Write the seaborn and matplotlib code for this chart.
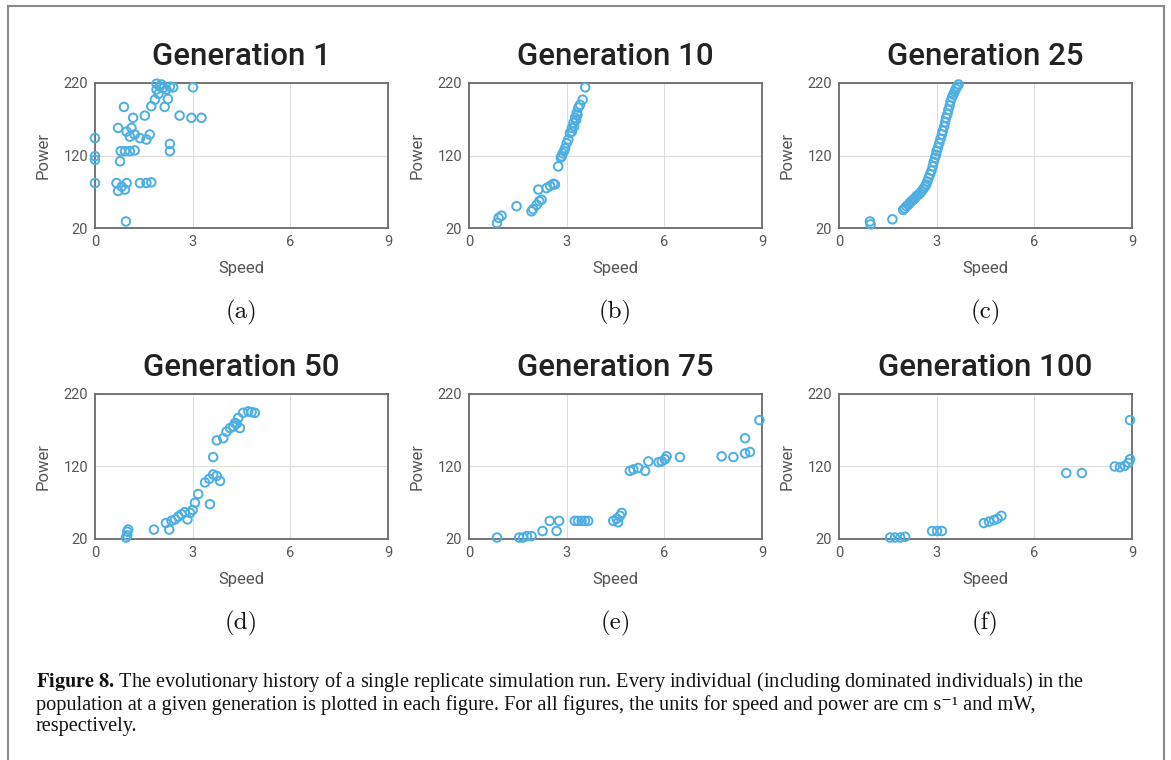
import matplotlib
matplotlib.use('Agg')
import matplotlib.pyplot as plt
import seaborn as sns
import pandas as pd
from matplotlib.patches import Rectangle

sns.set_theme(style='white')
plt.rcParams['font.family'] = ['Roboto', 'DejaVu Sans']
plt.rcParams['mathtext.fontset'] = 'stix'

# ---------------- data ----------------
titles = ['Generation 1', 'Generation 10', 'Generation 25',
          'Generation 50', 'Generation 75', 'Generation 100']
panel_labels = ['(a)', '(b)', '(c)', '(d)', '(e)', '(f)']
x_ticks = [0, 3, 6, 9]
y_ticks = [20, 120, 220]
x_label = 'Speed'
y_label = 'Power'

gen1_speed = [0.0, 0.0, 0.0, 0.0, 0.89, 0.71, 0.97, 1.12, 1.17, 1.07, 1.22, 1.38, 1.53, 1.68,
              1.58, 1.73, 1.84, 1.89, 1.99, 2.09, 2.19, 2.30, 2.40, 2.14, 2.24, 2.30, 2.30,
              3.01, 2.60, 2.96, 3.27, 0.79, 0.92, 1.07, 1.22, 0.77, 0.66, 0.82, 0.92, 0.71,
              0.97, 1.38, 1.58, 1.73, 0.95, 1.89, 2.04, 1.95]
gen1_power = [144, 119, 114, 82, 187, 158, 153, 158, 172, 146, 149, 144, 175, 149,
              142, 188, 197, 211, 215, 213, 211, 215, 214, 187, 198, 136, 126,
              214, 175, 172, 172, 126, 126, 126, 127, 112, 82, 77, 73, 71,
              82, 82, 82, 83, 29, 219, 218, 205]

gen10_speed = [0.86, 0.91, 1.00, 1.46, 1.92, 1.97, 2.08, 2.16, 2.23, 2.13, 2.38, 2.49, 2.59,
               2.64, 2.74, 2.82, 2.85, 2.88, 2.92, 2.95, 3.00, 3.05, 3.10, 3.16, 3.16, 3.21,
               3.23, 3.26, 3.29, 3.31, 3.33, 3.36, 3.41, 3.49, 3.57]
gen10_power = [27, 34, 37, 50, 43, 46, 52, 57, 59, 73, 75, 78, 81,
               80, 105, 117, 119, 123, 126, 130, 137, 142, 151, 153, 158, 165,
               160, 172, 169, 179, 176, 186, 190, 197, 214]

gen25_speed = [0.95, 0.97, 1.64, 1.97, 2.02, 2.07, 2.13, 2.18, 2.23, 2.28, 2.33, 2.38, 2.44,
               2.49, 2.54, 2.59, 2.64, 2.68, 2.71, 2.75, 2.80, 2.84, 2.88, 2.91, 2.95, 2.98,
               3.00, 3.04, 3.08, 3.12, 3.16, 3.19, 3.23, 3.26, 3.29, 3.33, 3.36, 3.40, 3.43,
               3.47, 3.51, 3.55, 3.59, 3.63, 3.67]
gen25_power = [29, 25, 32, 45, 47, 50, 52, 55, 57, 59, 61, 64, 66,
               68, 71, 74, 77, 80, 84, 89, 94, 99, 105, 111, 117, 121,
               126, 131, 137, 143, 149, 154, 160, 166, 172, 177, 183, 189, 195,
               200, 204, 208, 212, 215, 218]

gen50_speed = [0.99, 0.99, 1.02, 0.95, 1.81, 2.18, 2.28, 2.35, 2.46, 2.56, 2.66, 2.76, 2.84,
               2.92, 3.00, 3.07, 3.17, 3.38, 3.51, 3.53, 3.63, 3.74, 3.84, 3.63, 3.74, 3.94,
               4.04, 4.15, 4.25, 4.35, 4.45, 4.30, 4.40, 4.55, 4.71, 4.81, 4.91]
gen50_power = [25, 30, 33, 22, 33, 42, 33, 45, 47, 51, 54, 57, 47,
               56, 60, 70, 82, 98, 103, 68, 109, 107, 100, 133, 156, 159,
               168, 173, 175, 179, 173, 180, 187, 194, 196, 195, 194]

gen75_speed = [0.86, 1.54, 1.66, 1.78, 1.92, 2.26, 2.48, 2.69, 2.77, 3.25, 3.35, 3.46, 3.56,
               3.66, 4.43, 4.54, 4.64, 4.69, 4.58, 4.94, 5.05, 5.20, 5.41, 5.51, 5.82, 5.92,
               6.02, 6.07, 6.48, 7.76, 8.12, 8.48, 8.63, 8.48, 8.92]
gen75_power = [22, 22, 22, 24, 24, 31, 45, 31, 45, 45, 45, 45, 45,
               45, 45, 48, 52, 56, 43, 114, 116, 118, 114, 127, 126, 127,
               130, 134, 133, 134, 133, 138, 140, 159, 184]

gen100_speed = [1.57, 1.72, 1.88, 2.03, 2.86, 3.01, 3.16, 4.45, 4.61, 4.76, 4.87, 4.99,
                6.98, 7.46, 8.47, 8.63, 8.78, 8.89, 8.94, 8.94]
gen100_power = [22, 22, 22, 23, 31, 31, 31, 42, 44, 46, 48, 52,
                111, 111, 120, 119, 121, 125, 130, 184]

panels = [(gen1_speed, gen1_power), (gen10_speed, gen10_power), (gen25_speed, gen25_power),
          (gen50_speed, gen50_power), (gen75_speed, gen75_power), (gen100_speed, gen100_power)]

caption_lines = [
    r'$\mathbf{Figure\ 8.}\,$The evolutionary history of a single replicate simulation run. '
    r'Every individual (including dominated individuals) in the',
    'population at a given generation is plotted in each figure. For all figures, the '
    'units for speed and power are cm s\u207b\u00b9 and mW,',
    'respectively.',
]

# ---------------- layout ----------------
W, H = 1171, 760
fig = plt.figure(figsize=(W / 100, H / 100), dpi=100)
fig.patch.set_facecolor('white')

marker_color = '#4DAEE3'
col_left = [95, 469, 839]
row_top = [83, 394]
ax_w, ax_h = 293, 145

# page frame
fig.add_artist(Rectangle((8 / W, -0.05), (1164 - 8) / W, 1.05 - 6 / H,
                         transform=fig.transFigure, fill=False,
                         edgecolor='#8a8a8a', linewidth=1.5))

for i, (xs, ys) in enumerate(panels):
    r, c = divmod(i, 3)
    left = col_left[c] / W
    bottom = (H - row_top[r] - ax_h) / H
    ax = fig.add_axes([left, bottom, ax_w / W, ax_h / H])
    df = pd.DataFrame({'Speed': xs, 'Power': ys})
    sns.scatterplot(data=df, x='Speed', y='Power', ax=ax, marker='o', s=38,
                    fc='none', ec=marker_color, linewidth=1.4, clip_on=False, zorder=3)
    ax.set_xlim(0, 9)
    ax.set_ylim(20, 220)
    ax.set_xticks(x_ticks)
    ax.set_yticks(y_ticks)
    ax.grid(True, color='#dedede', linewidth=0.8)
    ax.set_axisbelow(True)
    for sp in ax.spines.values():
        sp.set_visible(True)
        sp.set_color('#6a6a6a')
        sp.set_linewidth(1.3)
    ax.tick_params(direction='in', length=3, width=0.8, color='#6a6a6a',
                   labelcolor='#555555', labelsize=10.5, pad=5)
    ax.set_xlabel(x_label, fontsize=12, color='#555555', labelpad=9)
    ax.set_ylabel(y_label, fontsize=12, color='#555555', labelpad=9)
    ax.set_title(titles[i], fontsize=22.5, color='#222222', pad=13, fontweight='medium')
    # panel sub-label
    fig.text((col_left[c] + ax_w / 2) / W, 1 - (row_top[r] + 229) / H, panel_labels[i],
             fontfamily='cmr10', fontsize=18, ha='center', va='center', color='#111111')

# ---------------- caption ----------------
cap_font = ['Liberation Serif', 'DejaVu Serif']
fig.text(36 / W, 1 - 670 / H, '\n'.join(caption_lines), fontfamily=cap_font,
         fontsize=14.6, color='#111111', va='top', ha='left', linespacing=1.09)

fig.savefig('out.png', dpi=100, facecolor='white')
